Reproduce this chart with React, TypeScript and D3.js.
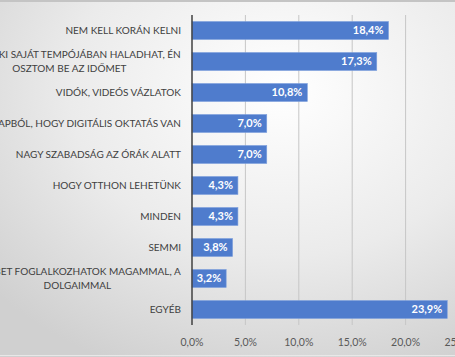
import React from "react";
import * as d3 from "d3";

const categories: string[][] = [
  ["NEM KELL KORÁN KELNI"],
  ["MINDENKI SAJÁT TEMPÓJÁBAN HALADHAT, ÉN", "OSZTOM BE AZ IDŐMET"],
  ["VIDÓK, VIDEÓS VÁZLATOK"],
  ["A LEGJOBB A NAPBÓL, HOGY DIGITÁLIS OKTATÁS VAN"],
  ["NAGY SZABADSÁG AZ ÓRÁK ALATT"],
  ["HOGY OTTHON LEHETÜNK"],
  ["MINDEN"],
  ["SEMMI"],
  ["TÖBBET FOGLALKOZHATOK MAGAMMAL, A", "DOLGAIMMAL"],
  ["EGYÉB"],
];
const values: number[] = [18.4, 17.3, 10.8, 7.0, 7.0, 4.3, 4.3, 3.8, 3.2, 23.9];
const ticks: number[] = [0, 5, 10, 15, 20, 25];

const W = 455;
const H = 357;
const FONT = "Lato, 'Open Sans', sans-serif";
const LABEL_SIZE = 10;

function measure(text: string, size: number, weight = "normal"): number {
  const c = document.createElement("canvas").getContext("2d");
  if (!c) return text.length * size * 0.55;
  c.font = `${weight} ${size}px Lato`;
  return c.measureText(text).width;
}

const fmt = (v: number) => v.toFixed(1).replace(".", ",") + "%";

export default function App() {
  const x = d3.scaleLinear().domain([0, 25]).range([192, 459]);
  const y = d3
    .scaleBand<number>()
    .domain(d3.range(categories.length))
    .range([15, 325])
    .paddingInner(0.42)
    .paddingOuter(0.21);
  const labelRight = 181;
  const lineH = 14;

  return (
    <div style={{ position: "absolute", left: 0, top: 0 }}>
      <svg width={W} height={H} style={{ display: "block" }}>
        <defs>
          <radialGradient id="bg" cx="62%" cy="25%" r="85%">
            <stop offset="0%" stopColor="#ffffff" />
            <stop offset="55%" stopColor="#ebebeb" />
            <stop offset="100%" stopColor="#d0d0d0" />
          </radialGradient>
        </defs>
        <rect x={0} y={0} width={W} height={H} fill="url(#bg)" />
        <rect x={0} y={0} width={W} height={2} fill="#c4c4c4" />
        <rect x={0} y={H - 2} width={W} height={1} fill="#e8e8e8" />

        {ticks.slice(1).map((t) => (
          <line
            key={t}
            x1={x(t)}
            x2={x(t)}
            y1={15}
            y2={325}
            stroke="#c6c6c6"
            strokeWidth={1}
          />
        ))}

        {values.map((v, i) => (
          <g key={i}>
            <rect
              x={x(0)}
              y={y(i)!}
              width={x(v) - x(0)}
              height={y.bandwidth()}
              fill="#4f7ccd"
              stroke="#7fa0dc"
              strokeWidth={0.6}
            />
            <text
              x={x(v) - 5}
              y={y(i)! + y.bandwidth() / 2}
              dy="0.35em"
              textAnchor="end"
              fill="#ffffff"
              fontFamily={FONT}
              fontWeight="bold"
              fontSize={11}
            >
              {fmt(v)}
            </text>
          </g>
        ))}

        {categories.map((lines, i) => {
          const cy = y(i)! + y.bandwidth() / 2;
          const w1 = measure(lines[0], LABEL_SIZE);
          const center = labelRight - w1 / 2;
          const y0 = cy - ((lines.length - 1) * lineH) / 2;
          return (
            <text
              key={i}
              fontFamily={FONT}
              fontSize={LABEL_SIZE}
              fill="#404040"
              textAnchor={lines.length > 1 ? "middle" : "end"}
            >
              {lines.map((l, j) => (
                <tspan
                  key={j}
                  x={lines.length > 1 ? center : labelRight}
                  y={y0 + j * lineH}
                  dy="0.35em"
                >
                  {l}
                </tspan>
              ))}
            </text>
          );
        })}

        <line x1={x(0)} x2={x(0)} y1={15} y2={325} stroke="#404040" strokeWidth={1.5} />

        {ticks.map((t) => (
          <text
            key={t}
            x={x(t)}
            y={342}
            dy="0.35em"
            textAnchor="middle"
            fill="#595959"
            fontFamily={FONT}
            fontSize={10.5}
          >
            {fmt(t)}
          </text>
        ))}
      </svg>
    </div>
  );
}
